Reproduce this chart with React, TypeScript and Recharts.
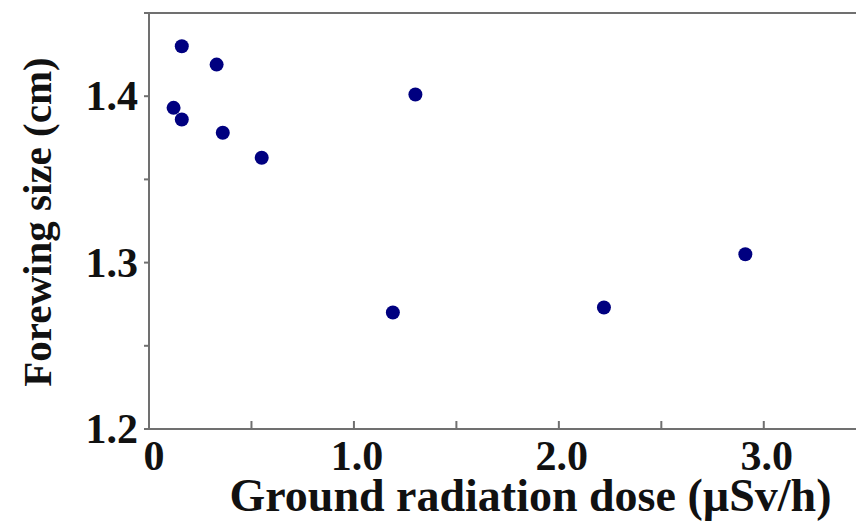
import { ScatterChart, Scatter, XAxis, YAxis, ReferenceLine } from "recharts";

// dose (µSv/h) vs forewing size (cm)
const doses = [0.16, 0.33, 0.12, 0.16, 0.36, 0.55, 1.3, 1.19, 2.22, 2.91];
const sizes = [1.430, 1.419, 1.393, 1.386, 1.378, 1.363, 1.401, 1.270, 1.273, 1.305];

const xTicks = [0, 0.5, 1, 1.5, 2, 2.5, 3];
const yTicks = [1.2, 1.25, 1.3, 1.35, 1.4, 1.45];

const points = doses.map((x, i) => ({ x, y: sizes[i] }));

const FONT = "'Liberation Serif', 'Times New Roman', serif";
const AXIS = "#707070";
const DOT = "#000080";

function XTick({ x, y, payload }: any) {
  const v = payload.value as number;
  const major = Number.isInteger(v);
  return (
    <g>
      {v > 0 && <line x1={x} x2={x} y1={y} y2={y - 8} stroke={AXIS} strokeWidth={2} />}
      {major && (
        <text x={v === 0 ? x + 5 : x + 3} y={y + 41} textAnchor="middle" fontFamily={FONT} fontWeight="bold" fontSize={42} fill="#111">
          {v === 0 ? "0" : v.toFixed(1)}
        </text>
      )}
    </g>
  );
}

function YTick({ x, y, payload }: any) {
  const v = payload.value as number;
  const major = Math.round(v * 100) % 10 === 0;
  return (
    <g>
      <line x1={x} x2={x - 5} y1={y} y2={y} stroke={AXIS} strokeWidth={2} />
      {major && (
        <text x={x - 11} y={y + 14} textAnchor="end" fontFamily={FONT} fontWeight="bold" fontSize={42} fill="#111">
          {v.toFixed(1)}
        </text>
      )}
    </g>
  );
}

const Dot = (props: any) => <circle cx={props.cx} cy={props.cy} r={7} fill={DOT} />;

export default function App() {
  return (
    <div>
      <style>{`body{margin:0;background:#fff}`}</style>
      <ScatterChart width={856} height={522} margin={{ top: 13, right: 0, bottom: 0, left: 0 }}>
        <XAxis
          type="number"
          dataKey="x"
          domain={[0, 3.45]}
          ticks={xTicks}
          allowDataOverflow
          height={93}
          tickSize={0}
          tickMargin={0}
          tickLine={false}
          axisLine={{ stroke: AXIS, strokeWidth: 2 }}
          tick={<XTick />}
          interval={0}
          label={{
            content: ({ viewBox }: any) => (
              <text
                x={viewBox.x + viewBox.width / 2 + 28}
                y={511}
                textAnchor="middle"
                fontFamily={FONT}
                fontWeight="bold"
                fontSize={46}
                fill="#111"
              >
                Ground radiation dose (µSv/h)
              </text>
            ),
          }}
        />
        <YAxis
          type="number"
          dataKey="y"
          domain={[1.2, 1.45]}
          ticks={yTicks}
          allowDataOverflow
          width={149}
          tickSize={0}
          tickMargin={0}
          tickLine={false}
          axisLine={{ stroke: AXIS, strokeWidth: 2 }}
          tick={<YTick />}
          interval={0}
          label={{
            content: () => (
              <text
                x={51}
                y={222}
                transform="rotate(-90, 51, 222)"
                textAnchor="middle"
                fontFamily={FONT}
                fontWeight="bold"
                fontSize={41}
                fill="#111"
              >
                Forewing size (cm)
              </text>
            ),
          }}
        />
        <ReferenceLine y={1.45} stroke={AXIS} strokeWidth={2} />
        <Scatter data={points} shape={<Dot />} isAnimationActive={false} />
      </ScatterChart>
    </div>
  );
}
